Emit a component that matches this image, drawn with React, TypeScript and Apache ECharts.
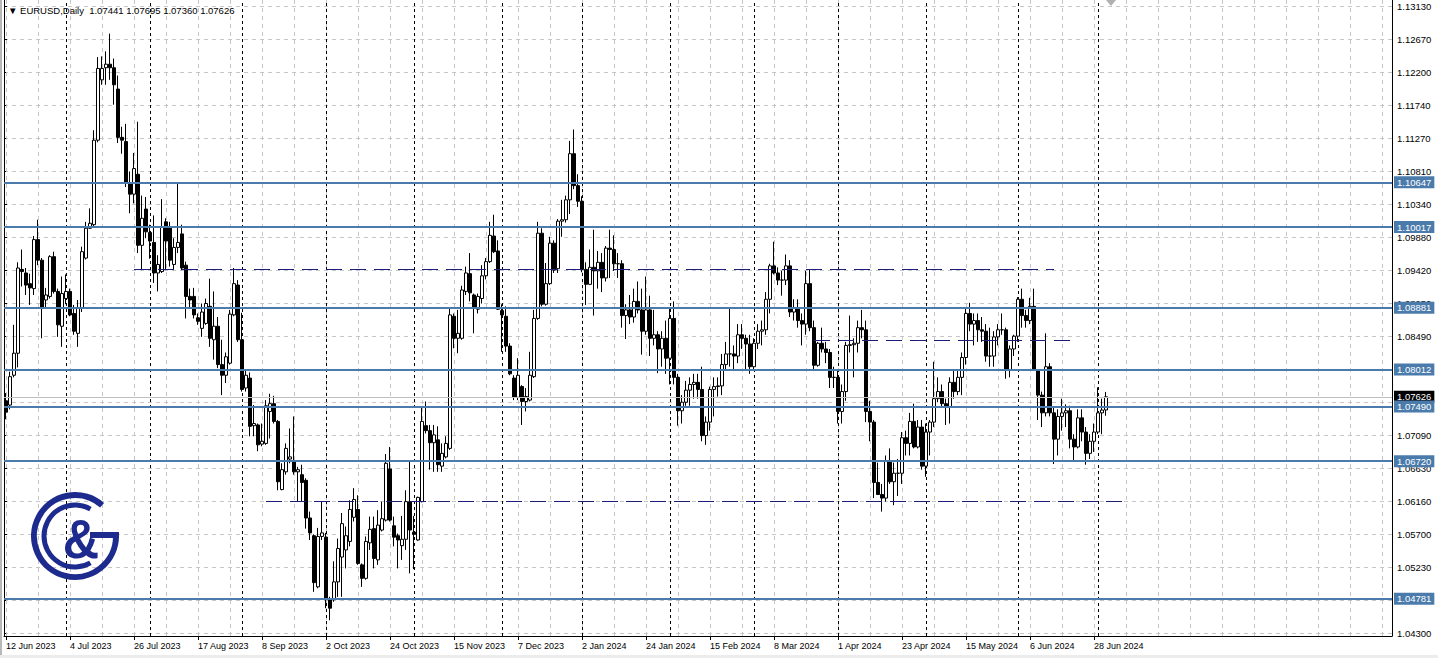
import React, { useEffect, useRef } from 'react';
import * as echarts from 'echarts';

const FONT = '"Liberation Sans", Arial, sans-serif';

// Daily bars, rows are [open, high, low, close]
const jun2023 = [
  [1.0757, 1.0768, 1.0731, 1.0741], [1.0751, 1.0798, 1.0745, 1.0791], [1.0793, 1.0864, 1.0790, 1.0824],
  [1.0824, 1.0952, 1.0804, 1.0944], [1.0942, 1.0970, 1.0918, 1.0939], [1.0937, 1.0944, 1.0906, 1.0920],
  [1.0922, 1.0936, 1.0892, 1.0916], [1.0915, 1.0989, 1.0906, 1.0984], [1.0984, 1.1012, 1.0948, 1.0955],
  [1.0955, 1.0958, 1.0845, 1.0887], [1.0899, 1.0916, 1.0887, 1.0906], [1.0904, 1.0962, 1.0901, 1.0960],
  [1.0960, 1.0967, 1.0908, 1.0911], [1.0911, 1.0915, 1.0847, 1.0864], [1.0862, 1.0932, 1.0833, 1.0908],
];
const jul2023 = [
  [1.0901, 1.0935, 1.0893, 1.0911], [1.0911, 1.0915, 1.0876, 1.0878], [1.0880, 1.0892, 1.0850, 1.0855],
  [1.0852, 1.0899, 1.0833, 1.0888], [1.0887, 1.0974, 1.0882, 1.0967], [1.0958, 1.1009, 1.0956, 1.1000],
  [1.1000, 1.1028, 1.0999, 1.1007], [1.1005, 1.1138, 1.1003, 1.1124], [1.1124, 1.1241, 1.1121, 1.1225],
  [1.1209, 1.1242, 1.1202, 1.1225], [1.1226, 1.1249, 1.1202, 1.1231], [1.1231, 1.1274, 1.1209, 1.1226],
  [1.1226, 1.1239, 1.1174, 1.1202], [1.1196, 1.1215, 1.1120, 1.1128], [1.1128, 1.1143, 1.1105, 1.1124],
  [1.1122, 1.1147, 1.1058, 1.1063], [1.1063, 1.1080, 1.1021, 1.1048], [1.1048, 1.1106, 1.1035, 1.1084],
  [1.1076, 1.1150, 1.0965, 1.0976], [1.0976, 1.1046, 1.0941, 1.1014], [1.1027, 1.1044, 1.0986, 1.0995],
];
const aug2023 = [
  [1.0994, 1.1005, 1.0957, 1.0982], [1.0980, 1.1018, 1.0923, 1.0937], [1.0937, 1.0962, 1.0911, 1.0949],
  [1.0939, 1.1041, 1.0937, 1.1002], [1.1009, 1.1014, 1.0941, 1.0982], [1.1002, 1.1009, 1.0946, 1.0955],
  [1.0949, 1.0986, 1.0941, 1.0973], [1.0973, 1.1065, 1.0965, 1.0980], [1.0992, 1.1005, 1.0941, 1.0944],
  [1.0948, 1.0953, 1.0873, 1.0904], [1.0904, 1.0915, 1.0887, 1.0899], [1.0904, 1.0916, 1.0873, 1.0878],
  [1.0874, 1.0880, 1.0864, 1.0869], [1.0859, 1.0894, 1.0847, 1.0882], [1.0866, 1.0901, 1.0864, 1.0894],
  [1.0890, 1.0929, 1.0833, 1.0845], [1.0843, 1.0911, 1.0815, 1.0862], [1.0862, 1.0875, 1.0803, 1.0808],
  [1.0808, 1.0843, 1.0765, 1.0793], [1.0793, 1.0825, 1.0782, 1.0819], [1.0810, 1.0885, 1.0808, 1.0879],
  [1.0878, 1.0944, 1.0876, 1.0922], [1.0920, 1.0927, 1.0840, 1.0843],
];
const sep2023 = [
  [1.0843, 1.0881, 1.0770, 1.0773], [1.0775, 1.0800, 1.0770, 1.0793], [1.0789, 1.0797, 1.0707, 1.0721],
  [1.0722, 1.0751, 1.0707, 1.0725], [1.0723, 1.0725, 1.0686, 1.0695], [1.0696, 1.0725, 1.0693, 1.0700],
  [1.0697, 1.0758, 1.0695, 1.0750], [1.0742, 1.0767, 1.0704, 1.0753], [1.0753, 1.0764, 1.0725, 1.0728],
  [1.0728, 1.0730, 1.0631, 1.0643], [1.0632, 1.0669, 1.0631, 1.0660], [1.0657, 1.0697, 1.0653, 1.0690],
  [1.0675, 1.0718, 1.0669, 1.0678], [1.0671, 1.0735, 1.0653, 1.0657], [1.0657, 1.0664, 1.0615, 1.0660],
  [1.0653, 1.0667, 1.0615, 1.0642], [1.0645, 1.0648, 1.0577, 1.0592], [1.0592, 1.0601, 1.0561, 1.0571],
  [1.0567, 1.0569, 1.0488, 1.0501], [1.0495, 1.0578, 1.0493, 1.0566], [1.0566, 1.0615, 1.0561, 1.0571],
];
const oct2023 = [
  [1.0565, 1.0571, 1.0465, 1.0477], [1.0477, 1.0481, 1.0448, 1.0465], [1.0477, 1.0531, 1.0474, 1.0502],
  [1.0502, 1.0563, 1.0481, 1.0549], [1.0537, 1.0599, 1.0481, 1.0584], [1.0547, 1.0580, 1.0521, 1.0567],
  [1.0559, 1.0617, 1.0552, 1.0604], [1.0593, 1.0634, 1.0587, 1.0618], [1.0604, 1.0624, 1.0526, 1.0528],
  [1.0526, 1.0528, 1.0495, 1.0507], [1.0507, 1.0566, 1.0505, 1.0559], [1.0557, 1.0594, 1.0547, 1.0576],
  [1.0577, 1.0594, 1.0521, 1.0535], [1.0533, 1.0603, 1.0526, 1.0582], [1.0575, 1.0615, 1.0573, 1.0591],
  [1.0589, 1.0682, 1.0587, 1.0669], [1.0661, 1.0692, 1.0587, 1.0589], [1.0581, 1.0594, 1.0552, 1.0565],
  [1.0567, 1.0570, 1.0521, 1.0561], [1.0553, 1.0595, 1.0533, 1.0562], [1.0562, 1.0631, 1.0547, 1.0615],
  [1.0615, 1.0673, 1.0514, 1.0575],
];
const nov2023 = [
  [1.0572, 1.0595, 1.0520, 1.0569], [1.0561, 1.0622, 1.0560, 1.0621], [1.0615, 1.0749, 1.0614, 1.0728],
  [1.0722, 1.0756, 1.0711, 1.0715], [1.0715, 1.0723, 1.0660, 1.0698], [1.0698, 1.0723, 1.0657, 1.0709],
  [1.0702, 1.0721, 1.0657, 1.0667], [1.0665, 1.0697, 1.0657, 1.0683], [1.0678, 1.0707, 1.0676, 1.0697],
  [1.0690, 1.0889, 1.0688, 1.0878], [1.0876, 1.0880, 1.0831, 1.0845], [1.0845, 1.0885, 1.0824, 1.0852],
  [1.0845, 1.0919, 1.0843, 1.0913], [1.0911, 1.0946, 1.0906, 1.0937], [1.0936, 1.0965, 1.0897, 1.0909],
  [1.0906, 1.0908, 1.0852, 1.0887], [1.0886, 1.0908, 1.0880, 1.0904], [1.0901, 1.0948, 1.0894, 1.0933],
  [1.0933, 1.0958, 1.0928, 1.0953], [1.0953, 1.1009, 1.0951, 1.0990], [1.0989, 1.1019, 1.0965, 1.0967],
  [1.0968, 1.0983, 1.0885, 1.0886],
];
const dec2023 = [
  [1.0884, 1.0893, 1.0826, 1.0878], [1.0876, 1.0890, 1.0826, 1.0834], [1.0834, 1.0838, 1.0793, 1.0795],
  [1.0789, 1.0793, 1.0758, 1.0762], [1.0762, 1.0817, 1.0758, 1.0793], [1.0777, 1.0779, 1.0723, 1.0756],
  [1.0756, 1.0775, 1.0742, 1.0763], [1.0758, 1.0826, 1.0756, 1.0793], [1.0791, 1.0885, 1.0789, 1.0873],
  [1.0873, 1.1009, 1.0871, 1.0993], [1.0993, 1.1000, 1.0890, 1.0893], [1.0893, 1.0951, 1.0891, 1.0922],
  [1.0922, 1.0988, 1.0920, 1.0979], [1.0979, 1.0983, 1.0937, 1.0941], [1.0943, 1.1013, 1.0937, 1.1010],
  [1.1010, 1.1040, 1.0988, 1.1012], [1.1012, 1.1046, 1.1008, 1.1040], [1.1040, 1.1123, 1.1020, 1.1105],
  [1.1105, 1.1139, 1.1055, 1.1060], [1.1060, 1.1076, 1.1030, 1.1038],
];
const jan2024 = [
  [1.1038, 1.1045, 1.0938, 1.0942], [1.0942, 1.0952, 1.0892, 1.0921], [1.0921, 1.0970, 1.0920, 1.0945],
  [1.0945, 1.0998, 1.0877, 1.0940], [1.0940, 1.0968, 1.0915, 1.0952], [1.0952, 1.0965, 1.0910, 1.0930],
  [1.0930, 1.0975, 1.0925, 1.0972], [1.0972, 1.0998, 1.0930, 1.0970], [1.0970, 1.0990, 1.0940, 1.0950],
  [1.0950, 1.0965, 1.0930, 1.0950], [1.0950, 1.0955, 1.0860, 1.0877], [1.0877, 1.0893, 1.0844, 1.0885],
  [1.0885, 1.0906, 1.0865, 1.0875], [1.0875, 1.0915, 1.0867, 1.0897], [1.0897, 1.0925, 1.0880, 1.0885],
  [1.0885, 1.0915, 1.0822, 1.0855], [1.0855, 1.0932, 1.0850, 1.0885], [1.0885, 1.0905, 1.0820, 1.0845],
  [1.0845, 1.0885, 1.0835, 1.0850], [1.0850, 1.0855, 1.0796, 1.0830], [1.0830, 1.0855, 1.0805, 1.0845],
  [1.0845, 1.0870, 1.0795, 1.0817],
];
const feb2024 = [
  [1.0817, 1.0888, 1.0780, 1.0873], [1.0873, 1.0897, 1.0780, 1.0790], [1.0790, 1.0795, 1.0722, 1.0743],
  [1.0743, 1.0765, 1.0725, 1.0755], [1.0755, 1.0785, 1.0750, 1.0772], [1.0772, 1.0790, 1.0750, 1.0780],
  [1.0780, 1.0795, 1.0760, 1.0783], [1.0783, 1.0795, 1.0760, 1.0773], [1.0773, 1.0805, 1.0700, 1.0708],
  [1.0708, 1.0735, 1.0695, 1.0727], [1.0727, 1.0777, 1.0715, 1.0773], [1.0773, 1.0790, 1.0735, 1.0777],
  [1.0777, 1.0790, 1.0763, 1.0778], [1.0778, 1.0823, 1.0765, 1.0808], [1.0808, 1.0840, 1.0800, 1.0823],
  [1.0823, 1.0888, 1.0805, 1.0823], [1.0823, 1.0835, 1.0800, 1.0820], [1.0820, 1.0865, 1.0810, 1.0850],
  [1.0850, 1.0865, 1.0830, 1.0845], [1.0845, 1.0850, 1.0800, 1.0837], [1.0837, 1.0850, 1.0795, 1.0805],
];
const mar2024 = [
  [1.0805, 1.0845, 1.0800, 1.0838], [1.0838, 1.0865, 1.0830, 1.0855], [1.0855, 1.0870, 1.0835, 1.0857],
  [1.0857, 1.0910, 1.0850, 1.0900], [1.0900, 1.0950, 1.0880, 1.0947], [1.0947, 1.0981, 1.0935, 1.0937],
  [1.0937, 1.0945, 1.0920, 1.0927], [1.0927, 1.0940, 1.0905, 1.0927], [1.0927, 1.0963, 1.0920, 1.0947],
  [1.0947, 1.0955, 1.0875, 1.0882], [1.0882, 1.0900, 1.0870, 1.0888], [1.0888, 1.0900, 1.0860, 1.0870],
  [1.0870, 1.0880, 1.0835, 1.0865], [1.0865, 1.0940, 1.0850, 1.0922], [1.0922, 1.0942, 1.0855, 1.0860],
  [1.0860, 1.0870, 1.0800, 1.0807], [1.0807, 1.0840, 1.0805, 1.0838], [1.0838, 1.0860, 1.0825, 1.0830],
  [1.0830, 1.0840, 1.0810, 1.0825], [1.0825, 1.0830, 1.0775, 1.0790], [1.0790, 1.0805, 1.0775, 1.0790],
];
const apr2024 = [
  [1.0790, 1.0800, 1.0725, 1.0742], [1.0742, 1.0780, 1.0725, 1.0770], [1.0770, 1.0840, 1.0757, 1.0835],
  [1.0835, 1.0877, 1.0825, 1.0836], [1.0836, 1.0845, 1.0790, 1.0838], [1.0838, 1.0870, 1.0825, 1.0860],
  [1.0860, 1.0885, 1.0845, 1.0857], [1.0857, 1.0870, 1.0727, 1.0742], [1.0742, 1.0757, 1.0700, 1.0727],
  [1.0727, 1.0730, 1.0620, 1.0642], [1.0642, 1.0670, 1.0625, 1.0625], [1.0625, 1.0640, 1.0601, 1.0620],
  [1.0620, 1.0680, 1.0615, 1.0672], [1.0672, 1.0690, 1.0640, 1.0643], [1.0643, 1.0670, 1.0610, 1.0655],
  [1.0655, 1.0675, 1.0623, 1.0655], [1.0655, 1.0713, 1.0640, 1.0705], [1.0705, 1.0715, 1.0680, 1.0697],
  [1.0697, 1.0740, 1.0680, 1.0728], [1.0728, 1.0753, 1.0690, 1.0692], [1.0692, 1.0730, 1.0690, 1.0720],
  [1.0720, 1.0730, 1.0660, 1.0665],
];
const may2024 = [
  [1.0665, 1.0725, 1.0650, 1.0713], [1.0713, 1.0730, 1.0680, 1.0727], [1.0727, 1.0812, 1.0720, 1.0760],
  [1.0760, 1.0790, 1.0755, 1.0770], [1.0770, 1.0780, 1.0748, 1.0753], [1.0753, 1.0760, 1.0723, 1.0749],
  [1.0749, 1.0790, 1.0725, 1.0783], [1.0783, 1.0800, 1.0760, 1.0770], [1.0770, 1.0800, 1.0765, 1.0790],
  [1.0790, 1.0825, 1.0765, 1.0818], [1.0818, 1.0888, 1.0808, 1.0880], [1.0880, 1.0895, 1.0855, 1.0865],
  [1.0865, 1.0880, 1.0835, 1.0870], [1.0870, 1.0880, 1.0840, 1.0857], [1.0857, 1.0875, 1.0840, 1.0855],
  [1.0855, 1.0865, 1.0812, 1.0820], [1.0820, 1.0860, 1.0805, 1.0820], [1.0820, 1.0855, 1.0805, 1.0847],
  [1.0847, 1.0865, 1.0835, 1.0857], [1.0857, 1.0880, 1.0850, 1.0857], [1.0857, 1.0860, 1.0788, 1.0800],
  [1.0800, 1.0835, 1.0790, 1.0830], [1.0830, 1.0850, 1.0820, 1.0848],
];
const jun2024 = [
  [1.0848, 1.0903, 1.0840, 1.0900], [1.0900, 1.0915, 1.0860, 1.0877], [1.0877, 1.0885, 1.0860, 1.0870],
  [1.0870, 1.0902, 1.0865, 1.0890], [1.0890, 1.0915, 1.0800, 1.0800], [1.0800, 1.0800, 1.0730, 1.0765],
  [1.0765, 1.0770, 1.0720, 1.0740], [1.0740, 1.0852, 1.0735, 1.0805], [1.0805, 1.0810, 1.0735, 1.0740],
  [1.0740, 1.0748, 1.0668, 1.0703], [1.0703, 1.0745, 1.0680, 1.0735], [1.0735, 1.0760, 1.0715, 1.0740],
  [1.0740, 1.0752, 1.0720, 1.0743], [1.0743, 1.0750, 1.0690, 1.0703], [1.0703, 1.0710, 1.0672, 1.0692],
  [1.0692, 1.0745, 1.0690, 1.0733], [1.0733, 1.0745, 1.0700, 1.0713], [1.0713, 1.0720, 1.0667, 1.0683],
  [1.0683, 1.0710, 1.0675, 1.0700], [1.0700, 1.0725, 1.0685, 1.0713],
];
const jul2024 = [
  [1.0713, 1.0776, 1.0710, 1.0740], [1.0740, 1.0760, 1.0710, 1.0744], [1.07441, 1.07695, 1.07360, 1.07626],
];

const bars = [
  ...jun2023, ...jul2023, ...aug2023, ...sep2023, ...oct2023, ...nov2023, ...dec2023,
  ...jan2024, ...feb2024, ...mar2024, ...apr2024, ...may2024, ...jun2024, ...jul2024,
];

const xTickLabels = [
  '12 Jun 2023', '4 Jul 2023', '26 Jul 2023', '17 Aug 2023', '8 Sep 2023', '2 Oct 2023',
  '24 Oct 2023', '15 Nov 2023', '7 Dec 2023', '2 Jan 2024', '24 Jan 2024', '15 Feb 2024',
  '8 Mar 2024', '1 Apr 2024', '23 Apr 2024', '15 May 2024', '6 Jun 2024', '28 Jun 2024',
];
const yTickLabels = [
  '1.13130', '1.12670', '1.12200', '1.11740', '1.11270', '1.10810', '1.10340', '1.09880', '1.09420', '1.08950',
  '1.08490', '1.08020', '1.07560', '1.07090', '1.06630', '1.06160', '1.05700', '1.05230', '1.04770', '1.04300',
];
const levels = [1.10647, 1.10017, 1.08881, 1.08012, 1.0749, 1.0672, 1.04781];
const dashedLevels = [
  { price: 1.0942, from: 32, to: 262 },
  { price: 1.0842, from: 202, to: 266 },
  { price: 1.0615, from: 65, to: 280 },
];
const monthStarts = [15, 36, 59, 80, 102, 124, 144, 166, 187, 208, 230, 253, 273];
const symbolName = 'EURUSD,Daily';
const lastBar = bars[bars.length - 1];
const lastPrice = lastBar[3];

const SLOTS = 347;
const Y_MIN = 1.04258;
const Y_MAX = 1.13214;
const BLUE = '#4a7bab';
const NAVY = '#1b1f7a';
const LOGO = '#1e2b8e';

export default function App() {
  const ref = useRef<HTMLDivElement>(null);

  useEffect(() => {
    if (!ref.current) return;
    const chart = echarts.init(ref.current, undefined, { renderer: 'svg' });
    const categories = Array.from({ length: SLOTS }, (_, i) => `c${i}`);

    const vGrid: any[] = [];
    for (let i = 0; i < SLOTS; i += 8) {
      vGrid.push({ xAxis: categories[i], lineStyle: { color: '#c6c6c6', type: [4, 4], width: 1 } });
    }
    const seps = monthStarts.map((i) => ({
      xAxis: categories[i],
      lineStyle: { color: '#000', type: [3, 3], width: 1 },
    }));

    const labelBox = (bg: string) => ({
      show: true,
      position: 'end',
      distance: 2,
      color: '#fff',
      backgroundColor: bg,
      padding: [1, 3, 1, 3],
      fontSize: 9.5,
      lineHeight: 10,
      fontFamily: FONT,
      formatter: (p: any) => Number(p.value).toFixed(5),
    });

    const overlayLines: any[] = [
      {
        yAxis: lastPrice,
        lineStyle: { color: '#c0c0c0', type: 'solid', width: 1 },
        label: labelBox('#000'),
      },
      ...levels.map((v) => ({
        yAxis: v,
        lineStyle: { color: BLUE, type: 'solid', width: 2 },
        label: labelBox(BLUE),
      })),
      ...dashedLevels.map((d) => [
        { coord: [categories[d.from], d.price], lineStyle: { color: NAVY, type: [16, 8], width: 1 }, label: { show: false } },
        { coord: [categories[d.to], d.price] },
      ]),
    ];

    const plainAxis = (position: string) => ({
      type: 'value',
      gridIndex: 0,
      position,
      min: Y_MIN,
      max: Y_MAX,
      axisLine: { show: true, lineStyle: { color: '#000', width: 1 } },
      axisTick: { show: false },
      axisLabel: { show: false },
      splitLine: { show: false },
    });

    const option: any = {
      animation: false,
      backgroundColor: '#ffffff',
      title: {
        text: `\u25BC ${symbolName}  ${lastBar.map((v) => v.toFixed(5)).join(' ')}`,
        left: 8,
        top: 5,
        padding: 0,
        textStyle: { fontSize: 9.5, fontWeight: 'normal', color: '#000', fontFamily: FONT },
      },
      grid: [
        { left: 4, right: 46, top: 0, bottom: 22 },
        { left: 4, right: 46, top: 6, bottom: 25 },
      ],
      xAxis: [
        {
          type: 'category',
          gridIndex: 0,
          data: categories,
          boundaryGap: true,
          axisLine: { show: true, lineStyle: { color: '#000', width: 1 } },
          axisTick: {
            show: true,
            length: 4,
            alignWithLabel: true,
            interval: (i: number) => i % 16 === 0 && i < bars.length,
            lineStyle: { color: '#000' },
          },
          axisLabel: {
            show: true,
            interval: (i: number) => i % 16 === 0 && i < bars.length,
            formatter: (_v: string, i: number) => xTickLabels[Math.round(i / 16)] ?? '',
            align: 'left',
            margin: 5,
            color: '#000',
            fontSize: 9,
            fontFamily: FONT,
          },
          splitLine: { show: false },
        },
        { type: 'value', gridIndex: 1, min: 0, max: 1, show: false },
      ],
      yAxis: [
        plainAxis('right'),
        {
          type: 'value',
          gridIndex: 1,
          position: 'right',
          min: 0,
          max: yTickLabels.length - 1,
          interval: 1,
          inverse: true,
          axisLine: { show: false },
          axisTick: { show: true, length: 3, lineStyle: { color: '#000' } },
          axisLabel: {
            show: true,
            margin: 5,
            color: '#000',
            fontSize: 9.5,
            fontFamily: FONT,
            formatter: (v: number) => yTickLabels[Math.round(v)] ?? '',
          },
          splitLine: { show: true, lineStyle: { color: '#c6c6c6', type: [4, 4], width: 1 } },
        },
        plainAxis('left'),
      ],
      series: [
        {
          type: 'line',
          xAxisIndex: 0,
          yAxisIndex: 0,
          data: [],
          z: 1,
          silent: true,
          markLine: {
            z: 1,
            silent: true,
            animation: false,
            symbol: ['none', 'none'],
            label: { show: false },
            data: [...vGrid, ...seps],
          },
        },
        {
          type: 'candlestick',
          xAxisIndex: 0,
          yAxisIndex: 0,
          barWidth: 3,
          z: 3,
          silent: true,
          data: bars.map(([o, h, l, c]) => [o, c, l, h]),
          itemStyle: {
            color: '#ffffff',
            color0: '#000000',
            borderColor: '#000000',
            borderColor0: '#000000',
            borderWidth: 1,
          },
          markLine: {
            z: 5,
            silent: true,
            animation: false,
            precision: 5,
            symbol: ['none', 'none'],
            label: { show: false },
            data: overlayLines,
          },
        },
      ],
      graphic: [
        { type: 'rect', shape: { x: 0, y: 0, width: 2, height: 658 }, style: { fill: '#b8b8b8' }, z: 10 },
        { type: 'rect', shape: { x: 0, y: 655, width: 1438, height: 3 }, style: { fill: '#ececec' }, z: 10 },
        {
          type: 'polygon',
          shape: { points: [[1106, 0], [1116, 0], [1111, 6]] },
          style: { fill: '#b0b0b0' },
          z: 10,
        },
        {
          type: 'arc',
          shape: { cx: 75, cy: 536, r: 41, startAngle: 0, endAngle: -0.85, clockwise: true },
          style: { stroke: LOGO, lineWidth: 6, fill: 'none' },
          z: 10,
        },
        {
          type: 'rect',
          shape: { x: 90, y: 532, width: 29, height: 6 },
          style: { fill: LOGO },
          z: 10,
        },
        {
          type: 'arc',
          shape: { cx: 75, cy: 536, r: 31, startAngle: -1.05, endAngle: 1.05, clockwise: false },
          style: { stroke: LOGO, lineWidth: 5, fill: 'none' },
          z: 10,
        },
        {
          type: 'text',
          x: 81,
          y: 539,
          scaleX: 0.9,
          style: {
            text: '&',
            fill: LOGO,
            font: `bold 56px ${FONT}`,
            align: 'center',
            verticalAlign: 'middle',
          },
          z: 10,
        },
      ],
    };

    chart.setOption(option);
    return () => chart.dispose();
  }, []);

  return (
    <div
      ref={ref}
      style={{ position: 'absolute', left: 0, top: 0, width: 1438, height: 658, background: '#ffffff' }}
    />
  );
}
